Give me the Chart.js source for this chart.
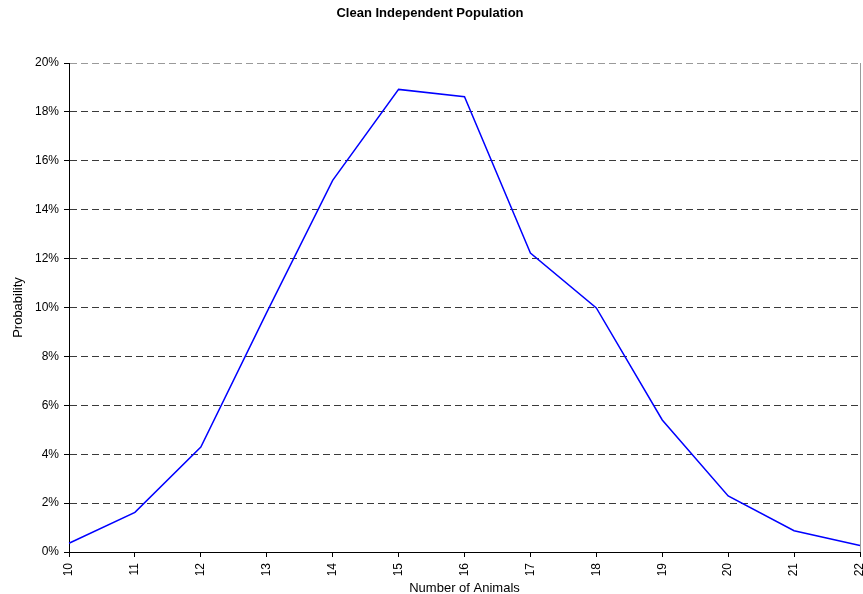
<!DOCTYPE html>
<html>
<head>
<meta charset="utf-8">
<script src="https://cdn.jsdelivr.net/npm/chart.js@4/dist/chart.umd.min.js"></script>
<style>
  html, body { margin: 0; padding: 0; background: #fff; }
  canvas { display: block; }
</style>
</head>
<body>
<canvas id="popChart" width="863" height="594"></canvas>
<script>
// number of animals on the x axis
const animals = ['10', '11', '12', '13', '14', '15', '16', '17', '18', '19', '20', '21', '22'];
// probability in percent for each count
const probability = [0.36, 1.62, 4.29, 9.8, 15.2, 18.92, 18.62, 12.23, 9.98, 5.4, 2.29, 0.87, 0.27];

const yMax = 20;
const yStep = 2;

const gridDark = '#3a3a3a';
const gridLight = '#9a9a9a';
const fontFamily = 'Liberation Sans, Arial, sans-serif';

const ctx = document.getElementById('popChart');

new Chart(ctx, {
    type: 'line',
    data: {
        labels: animals,
        datasets: [{
            label: 'Probability',
            data: probability,
            borderColor: '#0000ff',
            borderWidth: 1.5,
            pointRadius: 0,
            tension: 0,
            fill: false
        }]
    },
    options: {
        responsive: false,
        animation: false,
        layout: {
            padding: { left: 0, right: 3, top: 0, bottom: 0 }
        },
        plugins: {
            legend: { display: false },
            tooltip: { enabled: false },
            title: {
                display: true,
                text: 'Clean Independent Population',
                color: '#000',
                font: { family: fontFamily, size: 13, weight: 'bold' },
                padding: { top: 6, bottom: 41.4 }
            }
        },
        scales: {
            x: {
                type: 'category',
                offset: false,
                afterFit: (axis) => {
                    axis.height = 42;
                    // keep the rotated last label from shrinking the plot
                    axis.paddingLeft = 0;
                    axis.paddingRight = 0;
                },
                border: { display: true, color: '#000', width: 1 },
                grid: {
                    color: (c) => (c.tick && c.index === animals.length - 1) ? gridLight : 'rgba(0,0,0,0)',
                    tickColor: '#000',
                    tickLength: 5,
                    drawOnChartArea: true
                },
                ticks: {
                    color: '#000',
                    font: { family: fontFamily, size: 12 },
                    minRotation: 90,
                    maxRotation: 90,
                    padding: 6,
                    autoSkip: false
                },
                title: {
                    display: true,
                    text: 'Number of Animals',
                    color: '#000',
                    font: { family: fontFamily, size: 13 },
                    padding: { top: 0, bottom: -2 }
                }
            },
            y: {
                min: 0,
                max: yMax,
                afterFit: (axis) => { axis.width = 69; },
                border: { display: true, color: '#000', width: 1, dash: [7, 4] },
                grid: {
                    color: (c) => (c.tick && c.tick.value === yMax) ? gridLight : gridDark,
                    tickColor: '#000',
                    tickLength: 5,
                    tickBorderDash: []
                },
                ticks: {
                    stepSize: yStep,
                    color: '#000',
                    font: { family: fontFamily, size: 12 },
                    padding: 5,
                    callback: (v) => v + '%'
                },
                title: {
                    display: true,
                    text: 'Probability',
                    color: '#000',
                    font: { family: fontFamily, size: 13 },
                    padding: { top: 11, bottom: 0 }
                }
            }
        }
    }
});
</script>
</body>
</html>
